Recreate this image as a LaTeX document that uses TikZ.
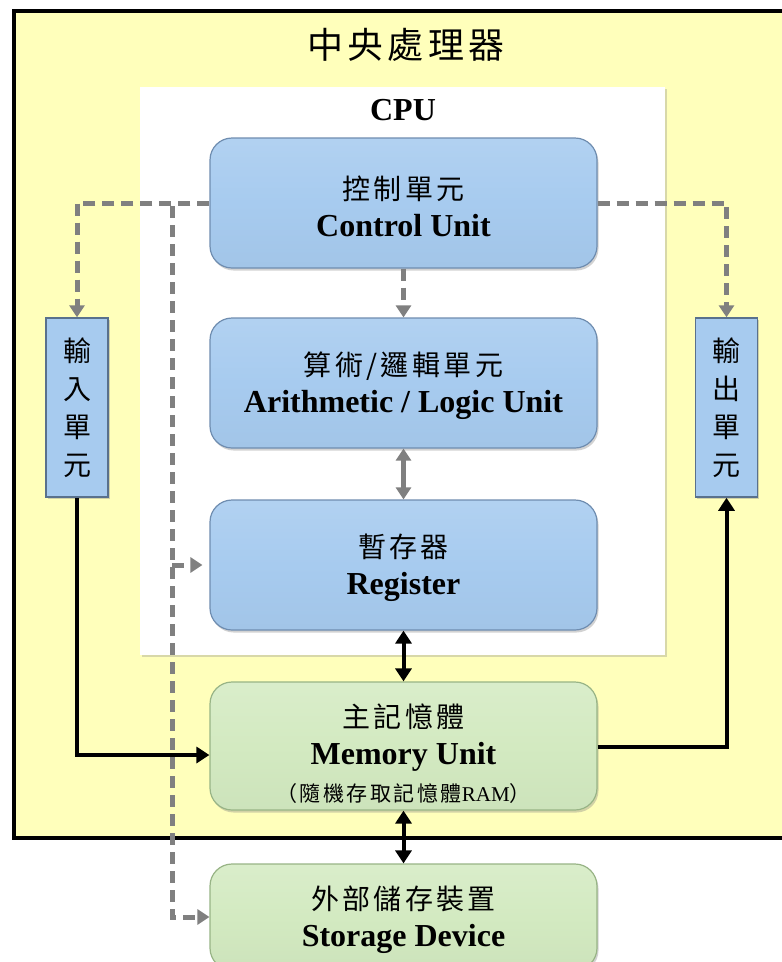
\documentclass[tikz,border=0pt]{standalone}
\usepackage{fontspec}
\setmainfont{Liberation Serif}
\newfontfamily\cjkfont[LetterSpace=12]{Noto Sans CJK TC}
\usetikzlibrary{arrows.meta,shadows}
\definecolor{cpuyellow}{HTML}{FFFFBB}
\definecolor{boxblue}{HTML}{A7CBEF}
\definecolor{boxblueedge}{HTML}{6F8DB0}
\definecolor{boxgreen}{HTML}{D3EAC1}
\definecolor{boxgreenedge}{HTML}{98B486}
\definecolor{dashgrey}{HTML}{808080}
\newcommand{\zh}[2][30pt]{{\rule{0pt}{#1}\cjkfont\fontsize{28}{37}\selectfont #2}}
\newcommand{\en}[1]{{\bfseries\fontsize{32}{37}\selectfont #1}}
\begin{document}
\begin{tikzpicture}[x=1pt,y=-1pt,
  box/.style={rounded corners=22pt, minimum width=387pt, minimum height=130pt,
    align=center, inner sep=0pt, line width=1.2pt,
    drop shadow={shadow xshift=1.5pt,shadow yshift=-2.5pt,opacity=0.35},
    font=\fontsize{32}{37}\selectfont},
  bluebox/.style={box, draw=boxblueedge, top color=boxblue!88!white, bottom color=boxblue!97!black,
    middle color=boxblue},
  greenbox/.style={box, draw=boxgreenedge, top color=boxgreen!85!white, bottom color=boxgreen!97!black,
    middle color=boxgreen},
  sidebox/.style={draw=boxblueedge!80!black, fill=boxblue, line width=1.5pt,
    minimum width=62pt, minimum height=179pt, inner sep=0pt, align=center,
    drop shadow={shadow xshift=1.5pt,shadow yshift=-2pt,opacity=0.35},
    font=\cjkfont\fontsize{28}{38}\selectfont},
  cdash/.style={draw=dashgrey, line width=5pt, dash pattern=on 12pt off 7pt},
  gline/.style={draw=dashgrey, line width=5pt},
  bline/.style={draw=black, line width=4pt},
  gtip/.tip={Triangle[width=15pt,length=12pt]},
  btip/.tip={Triangle[width=16pt,length=13pt]}
]
\useasboundingbox (0,0) rectangle (782,962);
\clip (0,0) rectangle (782,962);
\fill[white] (0,0) rectangle (782,962);

% yellow frame
\node[draw=black, line width=4pt, fill=cpuyellow, minimum width=776pt,
  minimum height=827pt, inner sep=0pt] (frame) at (402,424.5) {};
\node[font=\cjkfont\fontsize{36}{40}\selectfont] (title) at (406,45) {中央處理器};

% white CPU area
\node[fill=white, minimum width=525pt, minimum height=568pt, inner sep=0pt,
  drop shadow={shadow xshift=2pt,shadow yshift=-2pt,opacity=0.3}] (cpu) at (402.5,371) {};
\node[font=\bfseries\fontsize{32}{37}\selectfont] (cpulabel) at (403,110) {CPU};

% main boxes
\node[bluebox] (ctrl) at (403.5,203) {\zh{控制單元}\\\en{Control Unit}};
\node[bluebox] (alu) at (403.5,383) {\zh{算術/邏輯單元}\\\en{Arithmetic / Logic Unit}};
\node[bluebox] (reg) at (403.5,565) {\zh{暫存器}\\\en{Register}};
\node[greenbox, minimum height=128pt] (mem) at (403.5,746)
  {\zh[38pt]{主記憶體}\\\en{Memory Unit}\\{\cjkfont\fontsize{21}{37}\selectfont （隨機存取記憶體{\rmfamily\mdseries RAM}）}};
\node[greenbox, minimum height=106pt] (stor) at (403.5,917) {\zh{外部儲存裝置}\\\en{Storage Device}};

% side boxes
\node[sidebox] (inp) at (77,407.5) {輸\\入\\單\\元};
\node[sidebox] (outp) at (726.5,407.5) {輸\\出\\單\\元};

% control connectors (dashed grey)
\draw[cdash,-gtip] (ctrl.west) -| (inp.north);
\draw[cdash,-gtip] (ctrl.east) -| (outp.north);
\coordinate (busTop) at (172,206);
\coordinate (busReg) at (172,565);
\draw[cdash,-gtip] (busTop) |- (stor.west);
\draw[cdash,-gtip,shorten >=7pt] (busReg) -- (reg.west);
\draw[cdash,-gtip] (ctrl.south) -- (alu.north);

% data connectors
\draw[gline,gtip-gtip] (alu.south) -- (reg.north);
\draw[bline,btip-btip] (reg.south) -- (mem.north);
\draw[bline,btip-btip] (mem.south) -- (stor.north);
\draw[bline,-btip] (inp.south) |- ([yshift=-9pt]mem.west);
\draw[bline,-btip] ([yshift=-1pt]mem.east) -| (outp.south);
\end{tikzpicture}
\end{document}
